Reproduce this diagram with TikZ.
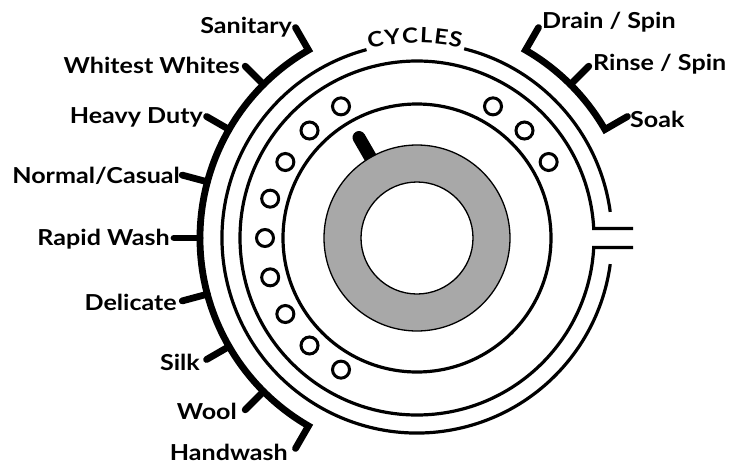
\documentclass[tikz,border=0pt]{standalone}
\usepackage{fontspec}
\setmainfont{Lato}[FakeStretch=1.14]
\begin{document}
\begin{tikzpicture}[x=1pt,y=1pt,
  thin ring/.style={line width=3.2pt},
  scale bar/.style={line width=6.8pt,line cap=round,line join=miter},
  hole/.style={line width=3pt},
  lbl/.style={inner sep=0pt,font=\fontsize{22}{26}\selectfont\bfseries},
  cyc/.style={inner sep=0pt,font=\fontsize{21}{25}\selectfont\bfseries}]
\useasboundingbox (0,-466) rectangle (729,0);
\begin{scope}[shift={(417,-238)}]
% pointer and dial
\draw[line width=13pt,line cap=round] (120:88) -- (120:116);
\fill[fill={rgb,255:red,168;green,168;blue,168},even odd rule] (0,0) circle (93) (0,0) circle (56);
\draw[line width=1.3pt] (0,0) circle (93);
\draw[line width=1.3pt] (0,0) circle (56);
% inner ring
\draw[thin ring] (0,0) circle (134);
% holes
\foreach \a in {120,135,...,240} \draw[hole] (\a:152) circle (8.5);
\foreach \a in {30,45,60} \draw[hole] (\a:152) circle (8.5);
% second ring with opening
\draw[thin ring,line join=miter] (216,9.5) -- (3.08:177) arc[start angle=3.08,end angle=356.92,radius=177] -- (216,-9.5);
% outer ring with gaps
\draw[thin ring] (7.7:195) arc[start angle=7.7,end angle=76,radius=195];
\draw[thin ring] (105:195) arc[start angle=105,end angle=352.3,radius=195];
% CYCLES
\foreach \l/\a in {C/101.9,Y/97.0,C/92.0,L/87.3,E/83.1,S/79.0}
  \node[cyc,anchor=base,rotate=\a-90] at (\a:195) {\l};
% left scale
\draw[scale bar] (120:243) -- (120:217) arc[start angle=120,end angle=240,radius=217] -- (240:243);
\foreach \a in {135,150,...,225} \draw[scale bar] (\a:217) -- (\a:243);
% right scale
\draw[scale bar] (60:243) -- (60:217) arc[start angle=60,end angle=30,radius=217] -- (30:243);
\draw[scale bar] (45:217) -- (45:243);
% labels
\node[lbl,anchor=base east] (san) at (-125,205) {Sanitary};
\node[lbl,anchor=base east] (ww) at (-177,165) {Whitest Whites};
\node[lbl,anchor=base east] (hd) at (-214,115) {Heavy Duty};
\node[lbl,anchor=base east] (nc) at (-237,55) {Normal/Casual};
\node[lbl,anchor=base east] (rw) at (-247,-7) {Rapid Wash};
\node[lbl,anchor=base east] (del) at (-240,-72) {Delicate};
\node[lbl,anchor=base east] (silk) at (-217,-132) {Silk};
\node[lbl,anchor=base east] (wool) at (-180,-181) {Wool};
\node[lbl,anchor=base east] (hw) at (-129,-222) {Handwash};
\node[lbl,anchor=base west] (ds) at (125,210) {Drain / Spin};
\node[lbl,anchor=base west] (rs) at (176,168) {Rinse / Spin};
\node[lbl,anchor=base west] (soak) at (213,111) {Soak};
\end{scope}
\end{tikzpicture}
\end{document}
